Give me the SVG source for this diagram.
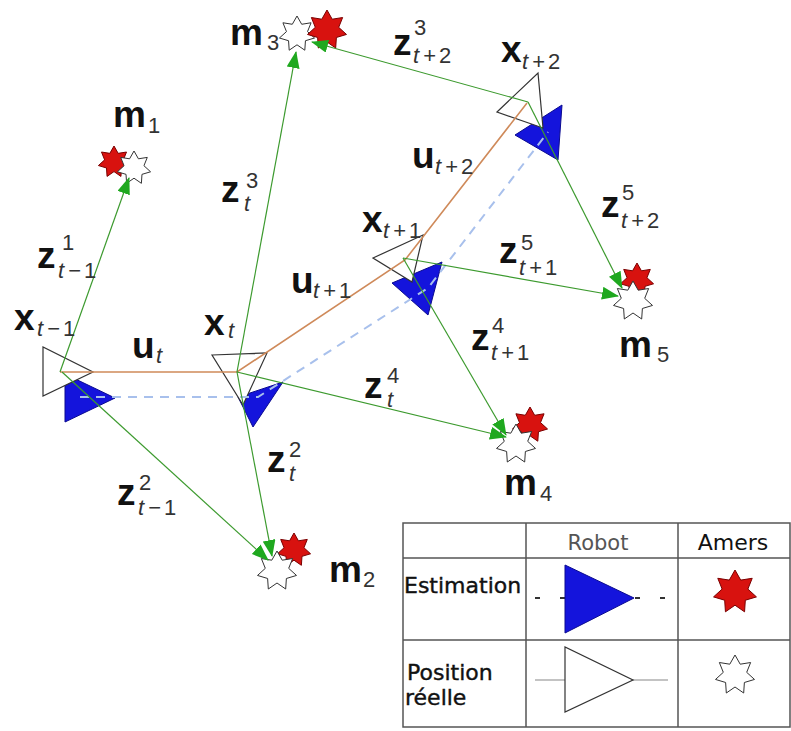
<svg xmlns="http://www.w3.org/2000/svg" xmlns:xlink="http://www.w3.org/1999/xlink" width="791" height="731" viewBox="0 0 791 731">
<style>
.lbl{font-family:"Liberation Sans",Arial,sans-serif;font-weight:bold;font-size:37px;fill:#111}
.sub{font-family:"Liberation Sans",Arial,sans-serif;font-weight:normal;font-size:22px;fill:#333}
.it{font-style:italic}
.blue{fill:#1414dc;stroke:#0a0a90;stroke-width:1}
.white{fill:#fff;stroke:#333;stroke-width:1.2}
.meas{fill:none;stroke:#3c9a2e;stroke-width:1.2;marker-end:url(#ah)}
.odo{fill:none;stroke:#cf8a5a;stroke-width:1.6}
.est{fill:none;stroke:#a8c0ec;stroke-width:2;stroke-dasharray:9 7}
.sr{fill:#d8120f;stroke:#7a0000;stroke-width:1}
.sw{fill:#fff;stroke:#333;stroke-width:1}
.tab{fill:none;stroke:#555;stroke-width:1.5}
.tt{font-family:"DejaVu Sans",sans-serif;font-size:22px;fill:#111}
</style>
<defs>
<path id="star" d="M0,-20 L5.21,-10.81 L15.64,-12.47 L11.7,-2.67 L19.5,4.45 L9.38,7.48 L8.68,18.02 L0,12 L-8.68,18.02 L-9.38,7.48 L-19.5,4.45 L-11.7,-2.67 L-15.64,-12.47 L-5.21,-10.81 Z" vector-effect="non-scaling-stroke"/>
<marker id="ah" markerUnits="userSpaceOnUse" markerWidth="17" markerHeight="13" viewBox="0 0 17 13" refX="16" refY="6.5" orient="auto">
<path d="M0,0 L17,6.5 L0,13 Z" fill="#1fa81f"/>
</marker>
</defs>
<rect width="791" height="731" fill="#fff"/>

<g id="robot-poses">
<g id="x_t-1">
<polygon class="blue" points="65,374 65,422 115,398"/>
<polygon class="white" points="43,347 43,396 93,372"/>
</g>
<g id="x_t">
<polygon class="blue" points="238,397 283,382 253,427"/>
<polygon class="white" points="212,355 267,353 243,405"/>
</g>
<g id="x_t+1">
<polygon class="blue" points="392,283 442,262 428,315"/>
<polygon class="white" points="373,258 423,235 412,282"/>
</g>
<g id="x_t+2">
<polygon class="blue" points="515,135 562,105 558,160"/>
<polygon class="white" points="497,112 538,73 543,128"/>
</g>
</g>

<g id="landmarks">
<g id="m1"><use xlink:href="#star" class="sr" transform="translate(114,162) scale(0.8)"/><use xlink:href="#star" class="sw" transform="translate(134,168) scale(0.85)"/></g>
<g id="m3"><use xlink:href="#star" class="sw" transform="translate(297,34) scale(0.9)"/><use xlink:href="#star" class="sr" transform="translate(327,30) scale(1)"/></g>
<g id="m5"><use xlink:href="#star" class="sr" transform="translate(637,280) scale(0.85)"/><use xlink:href="#star" class="sw" transform="translate(633,301) scale(1)"/></g>
<g id="m4"><use xlink:href="#star" class="sr" transform="translate(530,425) scale(0.9)"/><use xlink:href="#star" class="sw" transform="translate(516,444) scale(1)"/></g>
<g id="m2"><use xlink:href="#star" class="sr" transform="translate(294,550) scale(0.85)"/><use xlink:href="#star" class="sw" transform="translate(277,571) scale(1)"/></g>
</g>

<g id="connectors">
<polyline class="est" points="80,397 258,397 428,288 548,132"/>
<polyline class="odo" points="60,372 237,372 405,260 527,103"/>
<line class="meas" x1="60" y1="372" x2="129" y2="178"/>
<line class="meas" x1="62" y1="372" x2="268" y2="560"/>
<line class="meas" x1="237" y1="372" x2="296" y2="52"/>
<line class="meas" x1="237" y1="372" x2="272" y2="556"/>
<line class="meas" x1="237" y1="372" x2="506" y2="437"/>
<line class="meas" x1="403" y1="258" x2="506" y2="435"/>
<line class="meas" x1="403" y1="258" x2="618" y2="296"/>
<line class="meas" x1="528" y1="102" x2="312" y2="42"/>
<line class="meas" x1="528" y1="102" x2="622" y2="288"/>
</g>

<g id="labels">
<text class="lbl" x="113" y="127">m</text><text class="sub" x="148" y="133">1</text>
<text class="lbl" x="230" y="45">m</text><text class="sub" x="267" y="50">3</text>
<text class="lbl" x="393" y="55">z</text><text class="sub" x="414" y="35">3</text><text class="sub" x="413" y="63"><tspan class="it">t</tspan><tspan dx="4">+</tspan><tspan dx="3">2</tspan></text>
<text class="lbl" x="501" y="62">x</text><text class="sub" x="522" y="69"><tspan class="it">t</tspan><tspan dx="4">+</tspan><tspan dx="3">2</tspan></text>
<text class="lbl" x="412" y="168">u</text><text class="sub" x="435" y="174"><tspan class="it">t</tspan><tspan dx="4">+</tspan><tspan dx="3">2</tspan></text>
<text class="lbl" x="362" y="232">x</text><text class="sub" x="383" y="238"><tspan class="it">t</tspan><tspan dx="4">+</tspan><tspan dx="3">1</tspan></text>
<text class="lbl" x="601" y="217">z</text><text class="sub" x="622" y="200">5</text><text class="sub" x="621" y="228"><tspan class="it">t</tspan><tspan dx="4">+</tspan><tspan dx="3">2</tspan></text>
<text class="lbl" x="499" y="263">z</text><text class="sub" x="521" y="250">5</text><text class="sub" x="519" y="275"><tspan class="it">t</tspan><tspan dx="4">+</tspan><tspan dx="3">1</tspan></text>
<text class="lbl" x="619" y="357">m</text><text class="sub" x="657" y="362">5</text>
<text class="lbl" x="471" y="350">z</text><text class="sub" x="492" y="333">4</text><text class="sub" x="491" y="360"><tspan class="it">t</tspan><tspan dx="4">+</tspan><tspan dx="3">1</tspan></text>
<text class="lbl" x="504" y="495">m</text><text class="sub" x="540" y="501">4</text>
<text class="lbl" x="364" y="398">z</text><text class="sub" x="387" y="383">4</text><text class="sub it" x="387" y="407">t</text>
<text class="lbl" x="267" y="472">z</text><text class="sub" x="289" y="457">2</text><text class="sub it" x="289" y="481">t</text>
<text class="lbl" x="117" y="505">z</text><text class="sub" x="139" y="490">2</text><text class="sub" x="138" y="515"><tspan class="it">t</tspan><tspan dx="4">−</tspan><tspan dx="3">1</tspan></text>
<text class="lbl" x="14" y="330">x</text><text class="sub" x="37" y="336"><tspan class="it">t</tspan><tspan dx="4">−</tspan><tspan dx="3">1</tspan></text>
<text class="lbl" x="132" y="358">u</text><text class="sub it" x="156" y="363">t</text>
<text class="lbl" x="204" y="335">x</text><text class="sub it" x="228" y="338">t</text>
<text class="lbl" x="291" y="293">u</text><text class="sub" x="313" y="298"><tspan class="it">t</tspan><tspan dx="4">+</tspan><tspan dx="3">1</tspan></text>
<text class="lbl" x="221" y="202">z</text><text class="sub" x="246" y="188">3</text><text class="sub it" x="244" y="211">t</text>
<text class="lbl" x="37" y="268">z</text><text class="sub" x="62" y="250">1</text><text class="sub" x="58" y="278"><tspan class="it">t</tspan><tspan dx="4">−</tspan><tspan dx="3">1</tspan></text>
<text class="lbl" x="329" y="582">m</text><text class="sub" x="363" y="587">2</text>
</g>

<g id="legend">
<rect class="tab" x="403" y="523" width="387" height="204"/>
<line class="tab" x1="526" y1="523" x2="526" y2="727"/>
<line class="tab" x1="678" y1="523" x2="678" y2="727"/>
<line class="tab" x1="403" y1="558" x2="790" y2="558"/>
<line class="tab" x1="403" y1="640" x2="790" y2="640"/>
<text class="tt" x="598" y="550" text-anchor="middle" style="font-size:21px;fill:#555">Robot</text>
<text class="tt" x="733" y="550" text-anchor="middle" style="font-size:22px">Amers</text>
<text class="tt" x="404" y="593" stroke="#111" stroke-width="0.4">Estimation</text>
<text class="tt" x="407" y="680" stroke="#111" stroke-width="0.4">Position</text>
<text class="tt" x="405" y="705" stroke="#111" stroke-width="0.4">réelle</text>
<line x1="535" y1="598" x2="668" y2="598" stroke="#333" stroke-width="2" stroke-dasharray="5 20"/>
<polygon class="blue" points="565,565 565,633 634,598"/>
<line x1="535" y1="680" x2="668" y2="680" stroke="#888" stroke-width="1.2"/>
<polygon class="white" points="565,647 565,712 633,680"/>
<use xlink:href="#star" class="sr" transform="translate(735,592) scale(1.1)"/>
<use xlink:href="#star" class="sw" transform="translate(735,675) scale(1.0)"/>
</g>
</svg>
